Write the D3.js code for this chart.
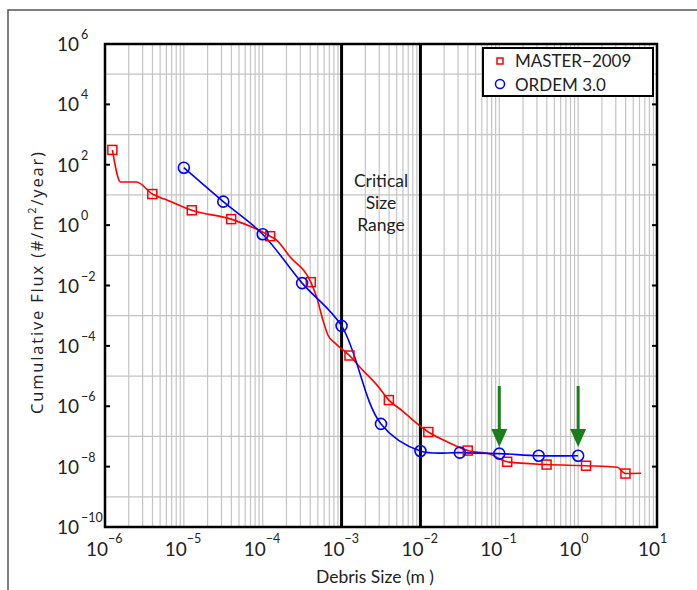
<!DOCTYPE html>
<html>
<head>
<meta charset="utf-8">
<script src="https://cdn.jsdelivr.net/npm/d3@7"></script>
<style>
  body { margin: 0; background: #fff; }
  text { font-family: Lato, "Open Sans", sans-serif; fill: #222; }
</style>
</head>
<body>
<script>
// MASTER-2009 curve (line points) and the marker points on it
var masterSize = [1.24e-6, 1.58e-6, 2.51e-6, 3.98e-6, 6.31e-6, 1.26e-5, 3.98e-5, 1.245e-4, 1.5e-4, 2.2e-4,
                  4.07e-4, 4.8e-4, 5.8e-4, 6.7e-4, 8.2e-4, 1.04e-3, 1.26e-3, 1.7e-3, 2.8e-3, 3.98e-3,
                  6.0e-3, 8.9e-3, 1.26e-2, 2.14e-2, 3.98e-2, 7.6e-2, 0.126, 0.398, 1.26, 3.15, 3.98, 6.3];
var masterFlux = [310, 26.9, 26.9, 10.7, 6.6, 3.1, 1.58, 0.43, 0.32, 0.091,
                  0.0129, 4.3e-3, 7.2e-4, 2.3e-4, 1.26e-4, 7.4e-5, 4.8e-5, 2.0e-5, 5.1e-6, 1.6e-6,
                  6.8e-7, 2.75e-7, 1.4e-7, 6.8e-8, 3.4e-8, 2.6e-8, 1.45e-8, 1.17e-8, 1.07e-8, 9.5e-9, 5.9e-9, 6.0e-9];
var masterMarkSize = [1.24e-6, 3.98e-6, 1.26e-5, 3.98e-5, 1.245e-4, 4.07e-4, 1.26e-3, 3.98e-3, 1.26e-2, 3.98e-2, 0.126, 0.398, 1.26, 3.98];
var masterMarkFlux = [310, 10.7, 3.1, 1.58, 0.43, 0.0129, 4.8e-5, 1.6e-6, 1.4e-7, 3.4e-8, 1.45e-8, 1.17e-8, 1.07e-8, 5.9e-9];

// ORDEM 3.0
var ordemSize = [1e-5, 3.16e-5, 1e-4, 3.16e-4, 1e-3, 3.16e-3, 1e-2, 3.16e-2, 0.1, 0.316, 1];
var ordemFlux = [80, 6, 0.5, 0.012, 4.6e-4, 2.6e-7, 3.3e-8, 2.9e-8, 2.7e-8, 2.3e-8, 2.3e-8];

var arrowSizes = [0.1, 1];
var criticalRange = [1e-3, 1e-2];
var xTickExp = [-6, -5, -4, -3, -2, -1, 0, 1];
var yTickExp = [-10, -8, -6, -4, -2, 0, 2, 4, 6];
var yGridExp = [-9, -7, -5, -3, -1, 1, 3, 5];
var seriesNames = ["MASTER\u22122009", "ORDEM 3.0"];

var w = 697, h = 590;
var pLeft = 105, pRight = 657, pTop = 44, pBottom = 527;

var svg = d3.select("body").append("svg").attr("width", w).attr("height", h);

var x = d3.scaleLog().domain([1e-6, 1e1]).range([pLeft, pRight]);
var y = d3.scaleLog().domain([1e-10, 1e6]).range([pBottom, pTop]);

// outer frame (top and left edges only)
svg.append("path").attr("d", "M8,590 V10 H697").attr("fill", "none").attr("stroke", "#555").attr("stroke-width", 1.5);

// vertical grid at every 1..9 x 10^k
var xGrid = [];
for (var e = -6; e < 1; e++) {
    for (var m = 1; m < 10; m++) xGrid.push(m * Math.pow(10, e));
}
svg.append("g").selectAll("line").data(xGrid).enter().append("line")
    .attr("x1", function (d) { return x(d); }).attr("x2", function (d) { return x(d); })
    .attr("y1", pTop).attr("y2", pBottom)
    .attr("stroke", "#c4c4c4").attr("stroke-width", 1.2);

// horizontal grid at odd decades
svg.append("g").selectAll("line").data(yGridExp).enter().append("line")
    .attr("x1", pLeft).attr("x2", pRight)
    .attr("y1", function (d) { return y(Math.pow(10, d)); }).attr("y2", function (d) { return y(Math.pow(10, d)); })
    .attr("stroke", "#c4c4c4").attr("stroke-width", 1.2);

// critical size range lines
svg.append("g").selectAll("line").data(criticalRange).enter().append("line")
    .attr("x1", function (d) { return x(d); }).attr("x2", function (d) { return x(d); })
    .attr("y1", pTop).attr("y2", pBottom)
    .attr("stroke", "#000").attr("stroke-width", 3);

var critX = (x(criticalRange[0]) + x(criticalRange[1])) / 2;
var crit = svg.append("text").attr("text-anchor", "middle").style("font-size", "17.5px");
["Critical", "Size", "Range"].forEach(function (s, i) {
    crit.append("tspan").attr("x", critX).attr("y", 187 + i * 22).text(s);
});

// plot border
svg.append("rect").attr("x", pLeft).attr("y", pTop).attr("width", pRight - pLeft).attr("height", pBottom - pTop)
    .attr("fill", "none").attr("stroke", "#000").attr("stroke-width", 2.5);

// y ticks (inward, both sides)
yTickExp.forEach(function (e) {
    var yy = y(Math.pow(10, e));
    svg.append("line").attr("x1", pLeft).attr("x2", pLeft + 5).attr("y1", yy).attr("y2", yy).attr("stroke", "#000").attr("stroke-width", 2);
    svg.append("line").attr("x1", pRight - 5).attr("x2", pRight).attr("y1", yy).attr("y2", yy).attr("stroke", "#000").attr("stroke-width", 2);
    svg.append("text").attr("x", 79).attr("y", yy + 7).attr("text-anchor", "end").style("font-size", "19px").text("10");
    svg.append("text").attr("x", 81).attr("y", yy - 5).style("font-size", "12.5px").text(e < 0 ? "\u2212" + (-e) : e);
});

// x tick labels
xTickExp.forEach(function (e) {
    var xx = x(Math.pow(10, e));
    svg.append("text").attr("x", xx - 8).attr("y", 556).attr("text-anchor", "middle").style("font-size", "19px").text("10");
    svg.append("text").attr("x", xx + 3).attr("y", 543).style("font-size", "12.5px").text(e < 0 ? "\u2212" + (-e) : e);
});

// axis titles
svg.append("text").attr("x", 375).attr("y", 583).attr("text-anchor", "middle").style("font-size", "17.5px").text("Debris Size (m )");
var yl = svg.append("text").attr("transform", "translate(43,283) rotate(-90)").attr("text-anchor", "middle")
    .style("font-family", "'Open Sans', sans-serif").style("font-size", "16.5px")
    .attr("textLength", 262).attr("lengthAdjust", "spacing");
yl.append("tspan").text("Cumulative Flux (#/m");
yl.append("tspan").attr("dy", -7).style("font-size", "11px").text("2");
yl.append("tspan").attr("dy", 7).text("/year)");

// series lines
var masterLine = d3.line().x(function (d) { return x(d[0]); }).y(function (d) { return y(d[1]); }).curve(d3.curveMonotoneX);
var ordemLine = d3.line().x(function (d) { return x(d[0]); }).y(function (d) { return y(d[1]); }).curve(d3.curveCatmullRom.alpha(0.5));

svg.append("path").datum(d3.zip(masterSize, masterFlux)).attr("d", masterLine)
    .attr("fill", "none").attr("stroke", "#ff0000").attr("stroke-width", 1.6);
svg.append("path").datum(d3.zip(ordemSize, ordemFlux)).attr("d", ordemLine)
    .attr("fill", "none").attr("stroke", "#0000ff").attr("stroke-width", 1.6);

// markers
svg.append("g").selectAll("rect").data(d3.zip(masterMarkSize, masterMarkFlux)).enter().append("rect")
    .attr("x", function (d) { return x(d[0]) - 4.5; }).attr("y", function (d) { return y(d[1]) - 4.5; })
    .attr("width", 9).attr("height", 9)
    .attr("fill", "none").attr("stroke", "#ff0000").attr("stroke-width", 1.5);
svg.append("g").selectAll("circle").data(d3.zip(ordemSize, ordemFlux)).enter().append("circle")
    .attr("cx", function (d) { return x(d[0]); }).attr("cy", function (d) { return y(d[1]); })
    .attr("r", 5.5)
    .attr("fill", "none").attr("stroke", "#0000ff").attr("stroke-width", 1.6);

// green arrows
arrowSizes.forEach(function (s) {
    var ax = x(s);
    svg.append("line").attr("x1", ax).attr("x2", ax).attr("y1", 386).attr("y2", 431)
        .attr("stroke", "#1a7f1a").attr("stroke-width", 3);
    svg.append("path").attr("d", "M" + (ax - 8) + ",429 L" + (ax + 8) + ",429 L" + ax + ",447 Z")
        .attr("fill", "#1a7f1a");
});

// legend
svg.append("rect").attr("x", 483).attr("y", 48).attr("width", 170).attr("height", 48)
    .attr("fill", "#fff").attr("stroke", "#000").attr("stroke-width", 2);
svg.append("rect").attr("x", 497).attr("y", 58).attr("width", 6).attr("height", 6)
    .attr("fill", "none").attr("stroke", "#ff0000").attr("stroke-width", 1.5);
svg.append("circle").attr("cx", 500).attr("cy", 84).attr("r", 4.5)
    .attr("fill", "none").attr("stroke", "#0000ff").attr("stroke-width", 1.5);
svg.append("text").attr("x", 515).attr("y", 67).style("font-size", "17px").text(seriesNames[0]);
svg.append("text").attr("x", 515).attr("y", 91).style("font-size", "17px").text(seriesNames[1]);
</script>
</body>
</html>
